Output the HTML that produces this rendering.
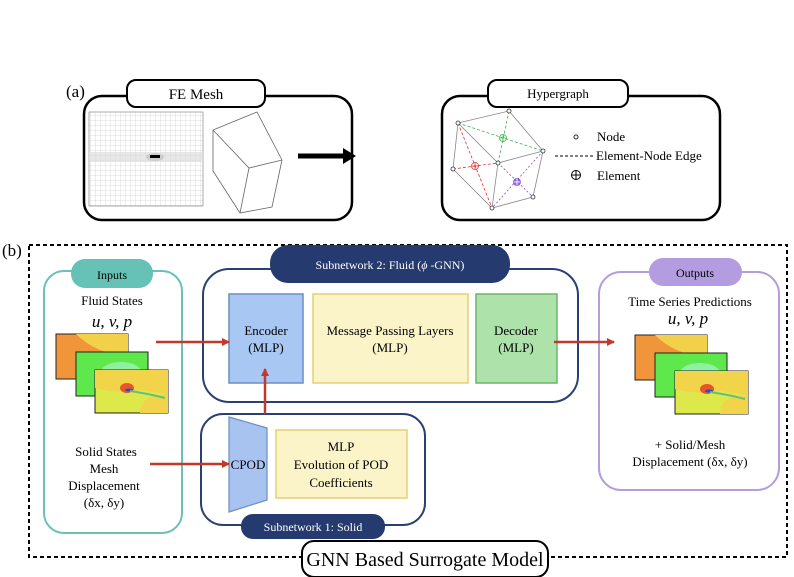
<!DOCTYPE html>
<html><head><meta charset="utf-8"><style>
html,body{margin:0;padding:0;background:#fff;}
svg{display:block;font-family:"Liberation Serif",serif;}
</style></head><body>
<svg width="794" height="577" viewBox="0 0 794 577" xmlns="http://www.w3.org/2000/svg">
<defs>
<pattern id="mesh" width="5" height="5" patternUnits="userSpaceOnUse">
<rect width="5" height="5" fill="#fff"/>
<path d="M0 0H5M0 0V5" stroke="#bbb" stroke-width="0.5"/>
</pattern>
<marker id="ar" markerWidth="8" markerHeight="8" refX="7" refY="4" orient="auto" markerUnits="userSpaceOnUse">
<path d="M0 0L8 4L0 8Z" fill="#c0392b"/>
</marker>
<g id="flow1">
<rect x="0" y="0" width="72" height="45" fill="#f0953a" stroke="#222" stroke-width="1"/>
<path d="M20 0 Q40 20 72 22 L72 0Z" fill="#f2d04a"/>
</g>
<g id="flow2">
<rect x="0" y="0" width="72" height="44" fill="#5fe84c" stroke="#222" stroke-width="1"/>
<ellipse cx="45" cy="20" rx="20" ry="10" fill="#8ef0a0"/>
</g>
<g id="flow3">
<rect x="0" y="0" width="73" height="43" fill="#dde84a" stroke="#222" stroke-width="1"/>
<path d="M0 0H73V25Q50 20 45 20 Q30 25 0 18Z" fill="#f2d44a"/>
<path d="M45 43 Q45 30 60 25 L73 25 V43Z" fill="#f2d44a"/>
<ellipse cx="32" cy="18" rx="7" ry="5" fill="#e8552a"/>
<ellipse cx="34" cy="20" rx="4" ry="1.5" fill="#2050d0"/>
<path d="M35 21 Q55 24 70 28" stroke="#60c080" stroke-width="2" fill="none"/>
</g>
</defs>

<!-- (a) -->
<text x="66" y="97" font-size="17">(a)</text>
<rect x="84" y="96" width="268" height="124" rx="18" fill="#fff" stroke="#000" stroke-width="2.5"/>
<rect x="127" y="80" width="138" height="27" rx="9" fill="#fff" stroke="#000" stroke-width="2"/>
<text x="196" y="99" font-size="15" text-anchor="middle">FE Mesh</text>
<rect x="89" y="112" width="114" height="94" fill="url(#mesh)" stroke="#999" stroke-width="0.8"/>
<rect x="89" y="152" width="114" height="10" fill="#ddd" opacity="0.7"/>
<ellipse cx="155" cy="157" rx="9" ry="4" fill="#ccc"/>
<rect x="150" y="155" width="10" height="3" fill="#000"/>
<g fill="none" stroke="#666" stroke-width="0.8">
<path d="M213 130L257 112L282 160L272 207L240 213L213 171Z"/>
<path d="M213 130L249 168L282 160M249 168L240 213"/>
</g>
<line x1="298" y1="156" x2="345" y2="156" stroke="#000" stroke-width="5"/>
<path d="M343 148L356 156L343 164Z" fill="#000"/>

<rect x="442" y="96" width="278" height="124" rx="18" fill="#fff" stroke="#000" stroke-width="2.5"/>
<rect x="488" y="80" width="140" height="27" rx="9" fill="#fff" stroke="#000" stroke-width="2"/>
<text x="558" y="98" font-size="13" text-anchor="middle">Hypergraph</text>
<g fill="none" stroke-width="0.8">
<path d="M458 123L509 111L543 151L533 197L492 208L453 169Z M458 123L498 163L543 151 M498 163L492 208" stroke="#888"/>
<path d="M458 123L543 151 M509 111L498 163" stroke="#3cb44b" stroke-dasharray="3,2"/>
<path d="M458 123L492 208 M453 169L498 163" stroke="#d33" stroke-dasharray="3,2"/>
<path d="M498 163L533 197 M543 151L492 208" stroke="#8a4fd8" stroke-dasharray="2,2"/>
</g>
<g fill="#fff" stroke="#333" stroke-width="0.8">
<circle cx="458" cy="123" r="2"/><circle cx="509" cy="111" r="2"/><circle cx="543" cy="151" r="2"/>
<circle cx="498" cy="163" r="2"/><circle cx="453" cy="169" r="2"/><circle cx="492" cy="208" r="2"/><circle cx="533" cy="197" r="2"/>
</g>
<g stroke-width="0.8" fill="none">
<circle cx="503" cy="138" r="3.5" stroke="#3cb44b"/><path d="M499.5 138h7M503 134.5v7" stroke="#3cb44b"/>
<circle cx="475" cy="166" r="3.5" stroke="#d33"/><path d="M471.5 166h7M475 162.5v7" stroke="#d33"/>
<circle cx="517" cy="182" r="3.5" stroke="#7a3fc8" fill="#9a6fe0"/><path d="M513.5 182h7M517 178.5v7" stroke="#fff"/>
</g>
<circle cx="576" cy="137" r="2" fill="#fff" stroke="#333"/>
<text x="597" y="141" font-size="13">Node</text>
<line x1="555" y1="156" x2="594" y2="156" stroke="#000" stroke-dasharray="3,2"/>
<text x="596" y="160" font-size="13">Element-Node Edge</text>
<circle cx="576" cy="175" r="4.5" fill="none" stroke="#000"/><path d="M571.5 175h9M576 170.5v9" stroke="#000"/>
<text x="597" y="180" font-size="13">Element</text>

<!-- (b) -->
<text x="2" y="256" font-size="17">(b)</text>
<rect x="29" y="245" width="758" height="312" fill="none" stroke="#000" stroke-width="2" stroke-dasharray="4,3"/>
<rect x="302" y="541" width="246" height="36" rx="12" fill="#fff" stroke="#000" stroke-width="2"/>
<text x="425" y="566" font-size="20" text-anchor="middle">GNN Based Surrogate Model</text>

<!-- Inputs -->
<rect x="44" y="271" width="138" height="262" rx="20" fill="#fff" stroke="#6cc0b8" stroke-width="2"/>
<rect x="71" y="259" width="82" height="29" rx="14" fill="#66c2b6"/>
<text x="112" y="279" font-size="12" text-anchor="middle">Inputs</text>
<text x="112" y="305" font-size="13" text-anchor="middle">Fluid States</text>
<text x="112" y="327" font-size="17" font-style="italic" text-anchor="middle">u, v, p</text>
<use href="#flow1" x="56" y="334"/><use href="#flow2" x="76" y="352"/><use href="#flow3" x="95" y="370"/>
<text x="106" y="456" font-size="13" text-anchor="middle">Solid States</text>
<text x="104" y="473" font-size="13" text-anchor="middle">Mesh</text>
<text x="104" y="490" font-size="13" text-anchor="middle">Displacement</text>
<text x="104" y="507" font-size="13" text-anchor="middle">(δx, δy)</text>

<!-- Subnetwork 2 -->
<rect x="203" y="269" width="375" height="133" rx="26" fill="#fff" stroke="#2a3f73" stroke-width="2"/>
<rect x="270" y="245" width="240" height="38" rx="18" fill="#253a6e"/>
<text x="390" y="269" font-size="12" fill="#fff" text-anchor="middle">Subnetwork 2: Fluid (<tspan font-style="italic">ϕ</tspan> -GNN)</text>
<rect x="229" y="294" width="74" height="89" fill="#a9c7f3" stroke="#6a8fc0" stroke-width="1.5"/>
<text x="266" y="335" font-size="13" text-anchor="middle">Encoder</text>
<text x="266" y="352" font-size="13" text-anchor="middle">(MLP)</text>
<rect x="313" y="294" width="155" height="89" fill="#faf4c8" stroke="#e6d070" stroke-width="1.5"/>
<text x="390" y="335" font-size="13" text-anchor="middle">Message Passing Layers</text>
<text x="390" y="352" font-size="13" text-anchor="middle">(MLP)</text>
<rect x="476" y="294" width="81" height="89" fill="#ade3ab" stroke="#6fb36b" stroke-width="1.5"/>
<text x="516" y="335" font-size="13" text-anchor="middle">Decoder</text>
<text x="516" y="352" font-size="13" text-anchor="middle">(MLP)</text>

<!-- Subnetwork 1 -->
<rect x="201" y="414" width="224" height="111" rx="22" fill="#fff" stroke="#2a3f73" stroke-width="2"/>
<rect x="241" y="514" width="144" height="25" rx="12" fill="#253a6e"/>
<text x="313" y="531" font-size="12" fill="#fff" text-anchor="middle">Subnetwork 1: Solid</text>
<path d="M229 417L267 428L267 500L229 512Z" fill="#a9c3f0" stroke="#6a8fc0" stroke-width="1.2"/>
<text x="248" y="469" font-size="13" text-anchor="middle">CPOD</text>
<rect x="276" y="430" width="131" height="68" fill="#faf4c8" stroke="#e6d070" stroke-width="1.5"/>
<text x="341" y="451" font-size="13" text-anchor="middle">MLP</text>
<text x="341" y="469" font-size="13" text-anchor="middle">Evolution of POD</text>
<text x="341" y="487" font-size="13" text-anchor="middle">Coefficients</text>

<!-- Outputs -->
<rect x="599" y="272" width="180" height="218" rx="22" fill="#fff" stroke="#b39ddb" stroke-width="2"/>
<rect x="649" y="258" width="93" height="28" rx="14" fill="#b39de0"/>
<text x="695" y="277" font-size="12" text-anchor="middle">Outputs</text>
<text x="690" y="306" font-size="13" text-anchor="middle">Time Series Predictions</text>
<text x="688" y="324" font-size="17" font-style="italic" text-anchor="middle">u, v, p</text>
<use href="#flow1" x="635" y="335"/><use href="#flow2" x="655" y="353"/><use href="#flow3" x="675" y="371"/>
<text x="690" y="449" font-size="13" text-anchor="middle">+ Solid/Mesh</text>
<text x="690" y="466" font-size="13" text-anchor="middle">Displacement (δx, δy)</text>

<!-- arrows -->
<g stroke="#c0392b" stroke-width="2.5" fill="none">
<line x1="156" y1="342" x2="229" y2="342" marker-end="url(#ar)"/>
<line x1="150" y1="464" x2="229" y2="464" marker-end="url(#ar)"/>
<line x1="265" y1="414" x2="265" y2="369" marker-end="url(#ar)"/>
<line x1="554" y1="342" x2="614" y2="342" marker-end="url(#ar)"/>
</g>
</svg>
</body></html>
